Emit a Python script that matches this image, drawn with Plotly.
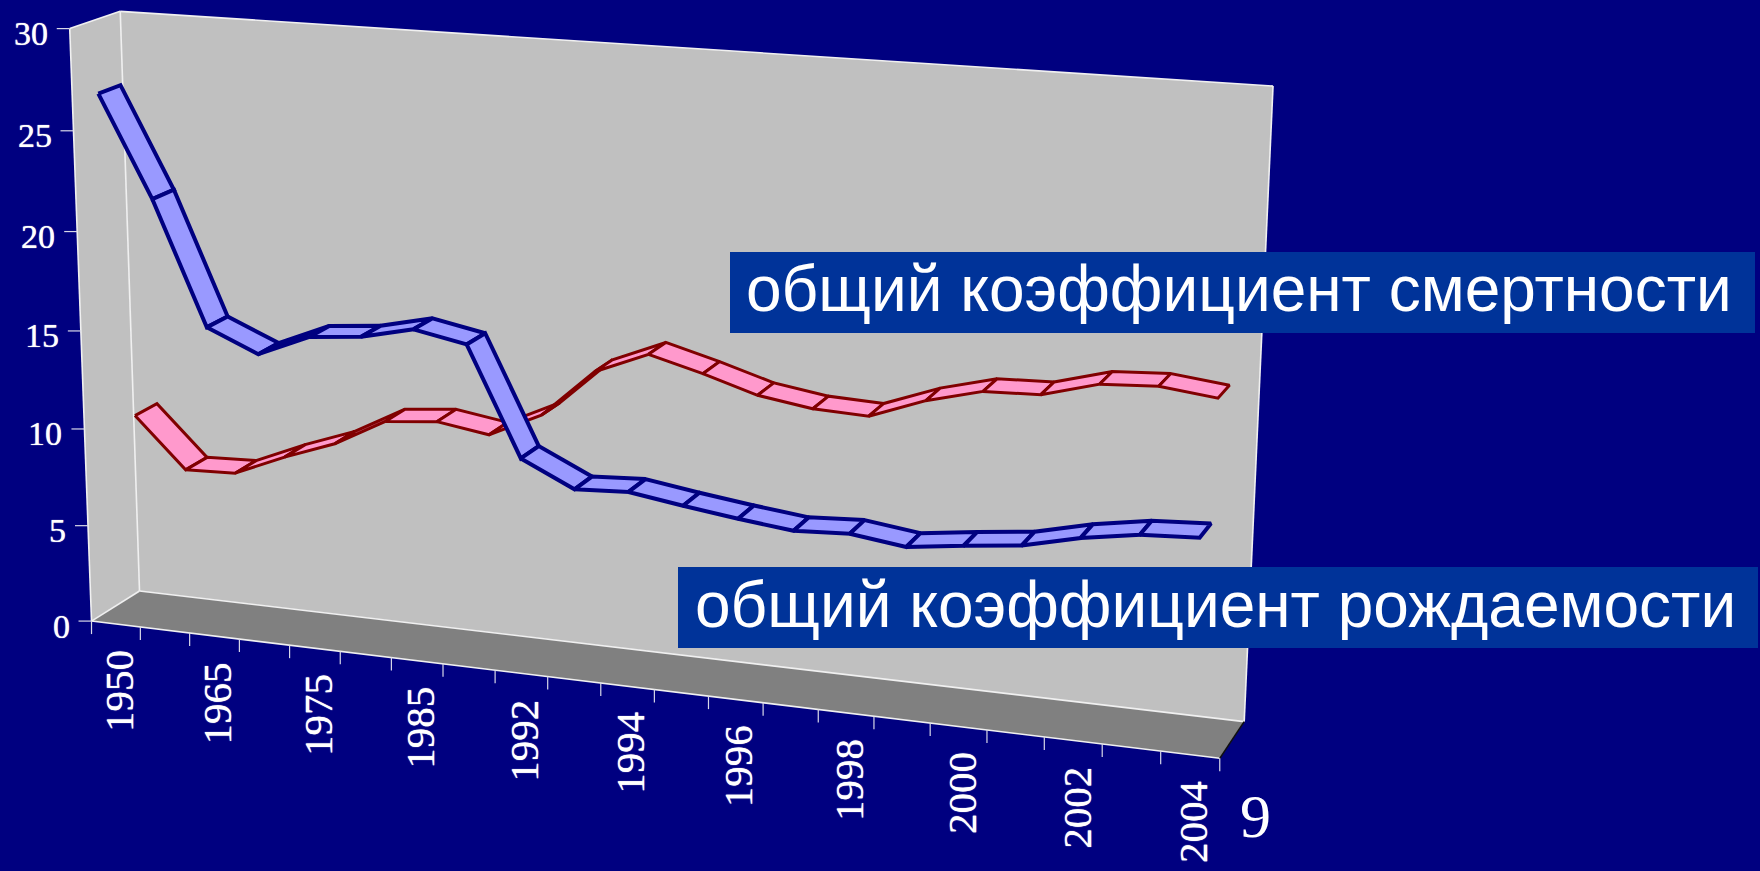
import numpy as np
import plotly.graph_objects as go

# ---------- data ----------
categories = ["1950","1960","1965","1970","1975","1980","1985","1990","1992","1993","1994",
              "1995","1996","1997","1998","1999","2000","2001","2002","2003","2004"]
birth_rate = [26.9,21.9,15.75,14.65,15.75,16.0,16.6,16.1,10.75,9.5,9.65,
              9.25,8.9,8.6,8.75,8.4,8.75,9.05,9.7,10.15,10.3]
death_rate = [10.1,7.55,7.65,8.75,9.7,11.1,11.35,10.95,12.2,14.6,15.7,
              15.0,14.2,13.8,13.7,14.7,15.4,15.5,16.25,16.4,16.1]
value_ticks = [0,5,10,15,20,25,30]
shown_years = ["1950","1965","1975","1985","1992","1994","1996","1998","2000","2002","2004"]
label_death = "общий коэффициент смертности"
label_birth = "общий коэффициент рождаемости"
page_number = "9"

# ---------- projection of the 3-D box onto the page ----------
VMAX = 30.0
N = len(categories)
box_corners = [((0,1,1),(121,11)),((1,1,1),(1273,86)),((1,0,1),(1244,722)),((0,0,1),(139,591)),
               ((0,1,0),(69,29)),((0,0,0),(92,621)),((1,0,0),(1220,758))]
rows = []
for (u,v,d),(px,py) in box_corners:
    X = [u,v,d,1]
    rows.append(X+[0,0,0,0]+[-px*k for k in X])
    rows.append([0,0,0,0]+X+[-py*k for k in X])
M = np.linalg.svd(np.array(rows,float))[2][-1].reshape(3,4)

def P(u, v, d):
    h = M @ np.array([u, v, d, 1.0])
    return float(h[0]/h[2]), float(h[1]/h[2])

NAVY="#000080"; WALL="#C0C0C0"; FLOOR="#808080"; WHITE="#FFFFFF"; EDGE="#F0F0F0"
fig = go.Figure()

def poly(pts, fill, line=None, width=0):
    xs=[p[0] for p in pts]+[pts[0][0]]
    ys=[p[1] for p in pts]+[pts[0][1]]
    fig.add_trace(go.Scatter(x=xs,y=ys,mode="lines",fill="toself",fillcolor=fill,
        line=dict(color=line or fill,width=width),hoverinfo="skip",showlegend=False))

def seg(pairs, color, width):
    xs=[];ys=[]
    for a,b in pairs:
        xs+=[a[0],b[0],None]; ys+=[a[1],b[1],None]
    fig.add_trace(go.Scatter(x=xs,y=ys,mode="lines",line=dict(color=color,width=width),
        hoverinfo="skip",showlegend=False))

# walls and floor
BL,BR,TR,TL = P(0,0,1),P(1,0,1),P(1,1,1),P(0,1,1)
FBL,FBR,FTL = P(0,0,0),P(1,0,0),P(0,1,0)
poly([FBL,BL,TL,FTL],WALL)
poly([BL,BR,TR,TL],WALL)
poly([FBL,FBR,BR,BL],FLOOR)
seg([(TL,TR),(TR,BR),(BR,BL),(BL,TL),(FTL,TL),(FTL,FBL),(FBL,BL),(FBL,FBR)],EDGE,1.6)
seg([(FBR,BR)],"#101010",1.6)

# axis ticks
yt=[]
for t in value_ticks:
    p=P(0,t/VMAX,0); yt.append((p,(p[0]-13,p[1])))
xt=[]
for i in range(N+1):
    p=P(i/N,0,0); xt.append((p,(p[0],p[1]+13)))
seg(yt+xt,"#D8D8E8",1.2)

# ribbons: each series occupies its own row in depth
def ribbon(vals,d0,d1,fill,line,width):
    for i in range(len(vals)-1):
        u0=(i+0.5)/N; u1=(i+1.5)/N
        v0=vals[i]/VMAX; v1=vals[i+1]/VMAX
        poly([P(u0,v0,d0),P(u1,v1,d0),P(u1,v1,d1),P(u0,v0,d1)],fill,line,width)
ribbon(death_rate,0.53,0.99,"#FF99CC","#800000",3)
ribbon(birth_rate,0.02,0.46,"#9999FF","#000080",4)

# value labels
SHADOW="0 0 1px #ffffff"
annotations=[]
for t in value_ticks:
    p=P(0,t/VMAX,0)
    annotations.append(dict(x=p[0]-20,y=p[1]+5,text=str(t),showarrow=False,xanchor="right",yanchor="middle",
        font=dict(family="Liberation Serif",size=34,color=WHITE,shadow=SHADOW)))
# category labels (every second category)
for y in shown_years:
    i=categories.index(y)
    p=P((i+0.5)/N,0,0)
    annotations.append(dict(x=p[0]+3,y=p[1]+24,text=y,showarrow=False,textangle=-90,xanchor="center",yanchor="top",
        font=dict(family="Liberation Serif",size=41,color=WHITE,shadow=SHADOW)))
# boxes with labels
shapes=[dict(type="rect",x0=730,x1=1755,y0=252,y1=333,fillcolor="#003399",line=dict(width=0),layer="above"),
        dict(type="rect",x0=678,x1=1758,y0=567,y1=648,fillcolor="#003399",line=dict(width=0),layer="above")]
annotations.append(dict(x=1239,y=289,text=label_death,showarrow=False,xanchor="center",yanchor="middle",
    font=dict(family="Liberation Sans",size=64,color=WHITE)))
annotations.append(dict(x=1215,y=605,text=label_birth,showarrow=False,xanchor="center",yanchor="middle",
    font=dict(family="Liberation Sans",size=64,color=WHITE)))
annotations.append(dict(x=1255,y=816,text=page_number,showarrow=False,xanchor="center",yanchor="middle",
    font=dict(family="Liberation Serif",size=62,color=WHITE)))

fig.update_layout(width=1760,height=871,margin=dict(l=0,r=0,t=0,b=0),
    paper_bgcolor=NAVY,plot_bgcolor=NAVY,showlegend=False,
    xaxis=dict(range=[0,1760],visible=False,fixedrange=True),
    yaxis=dict(range=[871,0],visible=False,fixedrange=True),
    shapes=shapes,annotations=annotations)
fig.write_html("out.html",config=dict(displayModeBar=False),
    post_script="document.body.style.margin='0';document.body.style.background='#000080';document.body.style.overflow='hidden';")
